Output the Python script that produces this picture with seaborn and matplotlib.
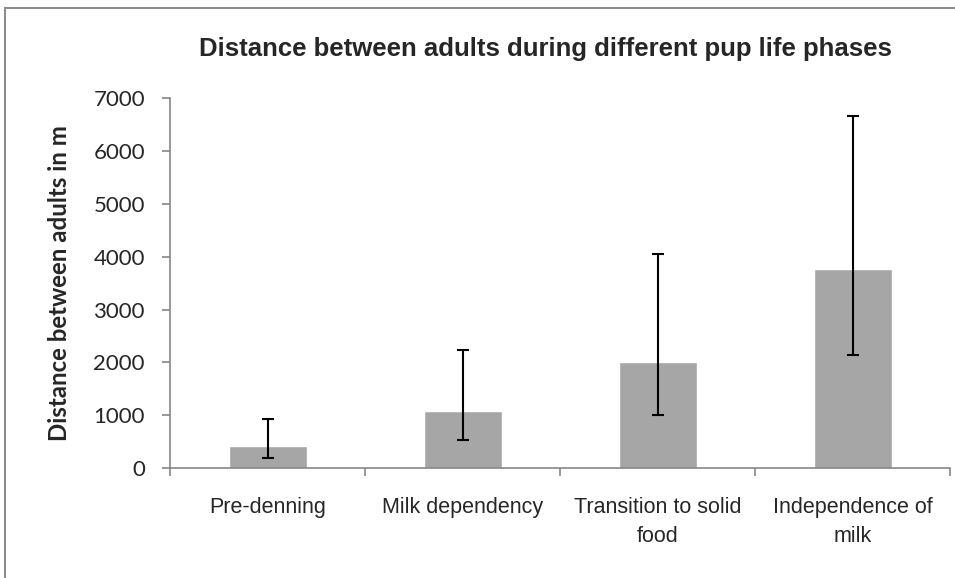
import matplotlib
matplotlib.use("Agg")
import matplotlib.pyplot as plt
import seaborn as sns
import numpy as np
import pandas as pd
from matplotlib.patches import Rectangle
from matplotlib.ticker import FixedLocator

# data
phases = ["Pre-denning", "Milk dependency", "Transition to solid\nfood", "Independence of\nmilk"]
mean_distance = [415, 1080, 2005, 3770]
err_low = [190, 525, 1000, 2140]
err_high = [930, 2240, 4045, 6660]
y_ticks = [0, 1000, 2000, 3000, 4000, 5000, 6000, 7000]

df = pd.DataFrame({"phase": phases, "distance": mean_distance})

sns.set_theme(style="white")
plt.rcParams["font.family"] = ["Liberation Sans", "DejaVu Sans"]

fig = plt.figure(figsize=(9.55, 5.78), dpi=100)
ax = fig.add_axes([0.178, 0.19, 0.817, 0.64])

sns.barplot(data=df, x="phase", y="distance", color="#a6a6a6",
            width=0.4, saturation=1, ax=ax, errorbar=None)

# asymmetric error bars
yerr = [np.array(mean_distance) - np.array(err_low),
        np.array(err_high) - np.array(mean_distance)]
ax.errorbar(range(len(phases)), mean_distance, yerr=yerr, fmt="none",
            ecolor="black", elinewidth=1.5, capsize=4, capthick=1.5)

ax.set_xlim(-0.5, len(phases) - 0.5)
ax.set_ylim(0, 7000)
ax.set_yticks(y_ticks)
ax.set_yticklabels([str(t) for t in y_ticks], fontfamily="Lato", fontsize=16)
ax.set_xticks(range(len(phases)))
ax.set_xticklabels(phases, fontsize=15.5, linespacing=1.5)
ax.xaxis.set_minor_locator(FixedLocator(np.arange(-0.5, len(phases), 1.0)))
ax.tick_params(axis="x", which="major", length=0, pad=21)
ax.tick_params(axis="x", which="minor", length=6, width=1.2,
               color="#868686", direction="out", bottom=True)
ax.tick_params(axis="y", length=6, width=1.2, color="#868686",
               direction="out", left=True, pad=12)

for side in ["top", "right"]:
    ax.spines[side].set_visible(False)
for side in ["left", "bottom"]:
    ax.spines[side].set_color("#868686")
    ax.spines[side].set_linewidth(1.2)

ax.set_xlabel("")
ax.set_ylabel("Distance between adults in m", fontfamily="Lato",
              fontweight="bold", fontsize=17.3, labelpad=16)

fig.text(0.571, 0.915, "Distance between adults during different pup life phases",
         ha="center", va="center", fontsize=18.5, fontweight="bold")

# chart-area frame
fig.patches.append(Rectangle((5 / 955, -0.1), 1.2, (578 - 8) / 578 + 0.1,
                             transform=fig.transFigure, fill=False,
                             edgecolor="#8c8c8c", linewidth=1.5))

fig.savefig("out.png", dpi=100)
